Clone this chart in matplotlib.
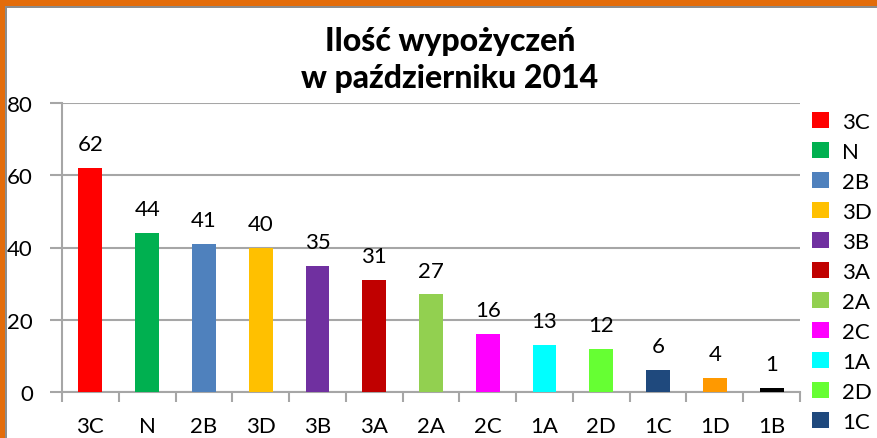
import matplotlib
matplotlib.use("Agg")
import matplotlib.pyplot as plt
from matplotlib.patches import Rectangle, Patch

# dane z wykresu
klasy = ["3C", "N", "2B", "3D", "3B", "3A", "2A", "2C", "1A", "2D", "1C", "1D", "1B"]
wypozyczenia = [62, 44, 41, 40, 35, 31, 27, 16, 13, 12, 6, 4, 1]
kolory = ["#FF0000", "#00B050", "#4F81BD", "#FFC000", "#7030A0", "#C00000",
          "#92D050", "#FF00FF", "#00FFFF", "#66FF33", "#1F497D", "#FF9900", "#000000"]
legenda_n = 11  # legend is cut off at the bottom of the picture

plt.rcParams['font.family'] = ['Lato', 'DejaVu Sans']

fig = plt.figure(figsize=(8.77, 4.39), dpi=100)
fig.patch.set_facecolor('white')

# orange frame (top + left) with grey inner line
fig.patches.append(Rectangle((0, 1 - 9/439), 1, 9/439, transform=fig.transFigure,
                             facecolor='#8C8C8C', edgecolor='none', zorder=0))
fig.patches.append(Rectangle((0, 1 - 7/439), 1, 7/439, transform=fig.transFigure,
                             facecolor='#E36C0A', edgecolor='none', zorder=1))
fig.patches.append(Rectangle((0, 0), 7/877, 1, transform=fig.transFigure,
                             facecolor='#8C8C8C', edgecolor='none', zorder=0))
fig.patches.append(Rectangle((0, 0), 5/877, 1 - 7/439, transform=fig.transFigure,
                             facecolor='#E36C0A', edgecolor='none', zorder=1))

ax = fig.add_axes([62/877, 1 - 393/439, 738/877, 289/439])

x = list(range(len(klasy)))
bars = ax.bar(x, wypozyczenia, width=0.42, color=kolory, zorder=3)
ax.bar_label(bars, labels=[str(v) for v in wypozyczenia], padding=10, fontsize=16)

ax.set_xlim(-0.5, len(klasy) - 0.5)
ax.set_ylim(0, 80)
ax.set_yticks([0, 20, 40, 60, 80])
ax.yaxis.grid(True, color='#A6A6A6', linewidth=1.5, zorder=0)
ax.set_axisbelow(True)

# category ticks between bars, labels centred under bars
ax.set_xticks([i - 0.5 for i in range(len(klasy) + 1)])
ax.set_xticklabels([])
ax.set_xticks(x, minor=True)
ax.set_xticklabels(klasy, minor=True)
ax.tick_params(axis='x', which='major', length=7, width=1.5, color='#A6A6A6')
ax.tick_params(axis='x', which='minor', length=0, pad=17, labelsize=16)
ax.tick_params(axis='y', length=9, width=1.5, color='#A6A6A6', pad=12, labelsize=16)

for s in ['top', 'right']:
    ax.spines[s].set_visible(False)
for s in ['left', 'bottom']:
    ax.spines[s].set_color('#A6A6A6')
    ax.spines[s].set_linewidth(1.5)

fig.text(0.513, 1 - 60/439, "Ilość wypożyczeń\nw październiku 2014", ha='center', va='center',
         fontsize=23, fontweight='black', linespacing=1.3)

handles = [Patch(facecolor=c) for c in kolory[:legenda_n]]
leg = fig.legend(handles, klasy[:legenda_n], loc='upper left', bbox_to_anchor=(803/877, 1 - 104/439),
                 frameon=False, fontsize=16, handlelength=0.75, handleheight=0.75,
                 handletextpad=0.6, labelspacing=0.45, borderaxespad=0)

fig.savefig("out.png", dpi=100)
